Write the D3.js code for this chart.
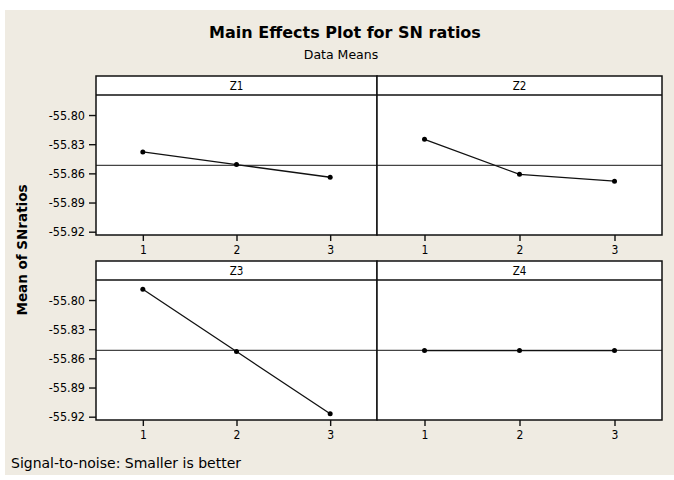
<!DOCTYPE html>
<html>
<head>
<meta charset="utf-8">
<script src="https://cdn.jsdelivr.net/npm/d3@7"></script>
<style>
  body { margin: 0; background: #fff; }
  text { font-family: "DejaVu Sans Condensed", "DejaVu Sans", sans-serif; fill: #000; }
  .wide { font-family: "DejaVu Sans", sans-serif; }
</style>
</head>
<body>
<div id="chart"></div>
<script>
// factor levels and SN ratio means
const levels = [1, 2, 3];
const factors = ["Z1", "Z2", "Z3", "Z4"];
const z1 = [-55.838, -55.851, -55.864];
const z2 = [-55.825, -55.861, -55.868];
const z3 = [-55.789, -55.853, -55.917];
const z4 = [-55.852, -55.852, -55.852];
const yTicks = [-55.80, -55.83, -55.86, -55.89, -55.92];

const series = [z1, z2, z3, z4];

const width = 674, height = 480;
const svg = d3.select("#chart").append("svg")
    .attr("width", width)
    .attr("height", height);

// beige figure background
svg.append("rect")
    .attr("x", 5).attr("y", 10)
    .attr("width", 669).attr("height", 465)
    .attr("fill", "#efebe2");

svg.append("text")
    .attr("class", "wide")
    .attr("x", 345).attr("y", 38)
    .attr("text-anchor", "middle")
    .style("font-size", "16px").style("font-weight", "bold")
    .text("Main Effects Plot for SN ratios");

svg.append("text")
    .attr("class", "wide")
    .attr("x", 341).attr("y", 59)
    .attr("text-anchor", "middle")
    .style("font-size", "12.5px")
    .text("Data Means");

svg.append("text")
    .attr("class", "wide")
    .attr("transform", "translate(27,250) rotate(-90)")
    .attr("text-anchor", "middle")
    .style("font-size", "13.5px").style("font-weight", "bold")
    .text("Mean of SNratios");

svg.append("text")
    .attr("class", "wide")
    .attr("x", 11).attr("y", 468)
    .style("font-size", "14px")
    .text("Signal-to-noise: Smaller is better");

// panel grid
const colX = [96, 377, 662];
const rowY = [76, 261];
const stripH = 19, plotH = 140;
const yDomain = [-55.9234, -55.7794];

const grandMean = d3.mean(series.flat());

factors.forEach((name, i) => {
  const col = i % 2, row = Math.floor(i / 2);
  const x0 = colX[col], x1 = colX[col + 1];
  const top = rowY[row], pTop = top + stripH, pBot = pTop + plotH;

  const x = d3.scaleLinear().domain([0.5, 3.5]).range([x0, x1]);
  const y = d3.scaleLinear().domain(yDomain).range([pBot, pTop]);

  const g = svg.append("g");

  // panel + strip background
  g.append("rect")
      .attr("x", x0).attr("y", top)
      .attr("width", x1 - x0).attr("height", pBot - top)
      .attr("fill", "#fff");

  // reference line at grand mean
  g.append("line")
      .attr("x1", x0).attr("x2", x1)
      .attr("y1", y(grandMean)).attr("y2", y(grandMean))
      .attr("stroke", "#444").attr("stroke-width", 1.3);

  // strip
  g.append("line")
      .attr("x1", x0).attr("x2", x1)
      .attr("y1", pTop).attr("y2", pTop)
      .attr("stroke", "#111").attr("stroke-width", 1.5);
  g.append("text")
      .attr("x", (x0 + x1) / 2).attr("y", top + 14)
      .attr("text-anchor", "middle")
      .style("font-size", "11.5px")
      .text(name);

  // data line and markers
  const vals = series[i];
  g.append("path")
      .datum(levels)
      .attr("fill", "none")
      .attr("stroke", "#111").attr("stroke-width", 1.3)
      .attr("d", d3.line().x(d => x(d)).y((d, j) => y(vals[j])));
  g.selectAll("circle")
      .data(levels)
      .enter()
      .append("circle")
      .attr("cx", d => x(d))
      .attr("cy", (d, j) => y(vals[j]))
      .attr("r", 2.5)
      .attr("fill", "#000");

  // frame
  g.append("rect")
      .attr("x", x0).attr("y", top)
      .attr("width", x1 - x0).attr("height", pBot - top)
      .attr("fill", "none")
      .attr("stroke", "#111").attr("stroke-width", 1.5);

  // x axis
  const xa = g.append("g")
      .attr("transform", `translate(0,${pBot})`)
      .call(d3.axisBottom(x).tickValues(levels).tickSize(6).tickPadding(4).tickFormat(d3.format("d")));
  xa.select(".domain").remove();
  xa.selectAll("line").attr("stroke", "#111").attr("stroke-width", 1.4);
  xa.selectAll("text").style("font-size", "12px").attr("fill", "#000");

  // y axis on left column only
  if (col === 0) {
    const ya = g.append("g")
        .attr("transform", `translate(${x0},0)`)
        .call(d3.axisLeft(y).tickValues(yTicks).tickSize(7).tickPadding(4).tickFormat(d3.format(".2f")));
    ya.select(".domain").remove();
    ya.selectAll("line").attr("stroke", "#111").attr("stroke-width", 1.4);
    ya.selectAll("text").style("font-size", "12.5px").attr("fill", "#000")
        .text(d => d3.format(".2f")(d).replace("−", "-"));
  }
});
</script>
</body>
</html>
